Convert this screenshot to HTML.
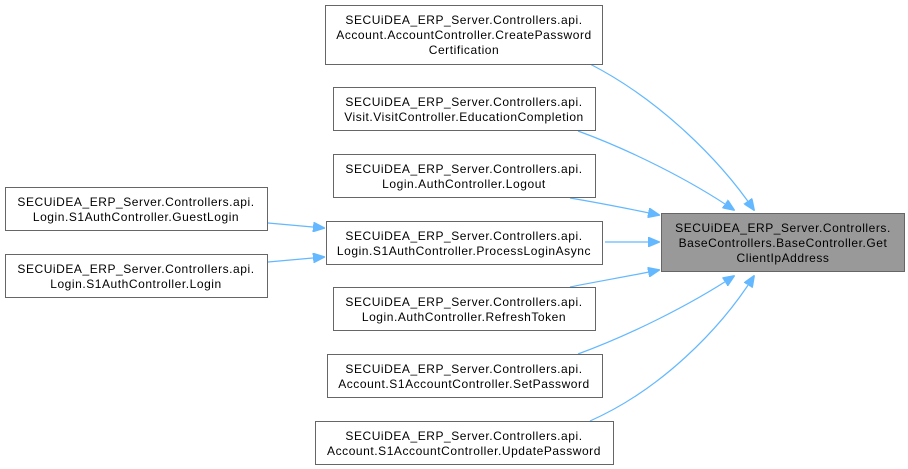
<!DOCTYPE html>
<html><head><meta charset="utf-8"><style>
html,body{margin:0;padding:0;background:#fff;}
svg{display:block;}
text{font-family:"Liberation Sans",Arial,sans-serif;font-size:12px;fill:#000;letter-spacing:0.55px;}
</style></head><body>
<svg width="908" height="469" viewBox="0 0 908 469" xmlns="http://www.w3.org/2000/svg">
<defs>
<marker id="a" markerWidth="12" markerHeight="10" refX="11" refY="5" orient="auto" markerUnits="userSpaceOnUse">
<path d="M0,0 L12,5 L0,10 Z" fill="#63b8ff" stroke="#63b8ff"/>
</marker>
</defs>
<g fill="none" stroke="#63b8ff" stroke-width="1.2">
<path d="M590,64 C660,100 720,160 754,210" marker-end="url(#a)"/>
<path d="M578,131 C630,150 690,180 734,210" marker-end="url(#a)"/>
<path d="M570,198 C600,203 630,209 659,215" marker-end="url(#a)"/>
<path d="M605,242 L659,242" marker-end="url(#a)"/>
<path d="M570,287 C600,281 630,276 659,270" marker-end="url(#a)"/>
<path d="M578,354 C630,335 690,305 734,276" marker-end="url(#a)"/>
<path d="M590,421 C660,390 720,330 754,276" marker-end="url(#a)"/>
<path d="M268,223 L324,228" marker-end="url(#a)"/>
<path d="M268,262 L324,257" marker-end="url(#a)"/>
</g>
<g stroke="#666" stroke-width="1" fill="#fff">
<rect x="325.5" y="5.5" width="277" height="59"/>
<rect x="333.5" y="87.5" width="262" height="43"/>
<rect x="333.5" y="154.5" width="262" height="43"/>
<rect x="326.5" y="221.5" width="276" height="43"/>
<rect x="333.5" y="287.5" width="262" height="43"/>
<rect x="327.5" y="354.5" width="275" height="43"/>
<rect x="315.5" y="421.5" width="298" height="43"/>
<rect x="5.5" y="187.5" width="262" height="43"/>
<rect x="5.5" y="254.5" width="262" height="43"/>
<rect x="661.5" y="213.5" width="243" height="58" fill="#999"/>
</g>
<g text-anchor="middle">
<text x="464" y="24">SECUiDEA_ERP_Server.Controllers.api.</text>
<text x="464" y="39">Account.AccountController.CreatePassword</text>
<text x="464" y="54">Certification</text>
<text x="464" y="106">SECUiDEA_ERP_Server.Controllers.api.</text>
<text x="464" y="121">Visit.VisitController.EducationCompletion</text>
<text x="464" y="173">SECUiDEA_ERP_Server.Controllers.api.</text>
<text x="464" y="188">Login.AuthController.Logout</text>
<text x="464" y="240">SECUiDEA_ERP_Server.Controllers.api.</text>
<text x="464" y="255">Login.S1AuthController.ProcessLoginAsync</text>
<text x="464" y="306">SECUiDEA_ERP_Server.Controllers.api.</text>
<text x="464" y="321">Login.AuthController.RefreshToken</text>
<text x="464" y="373">SECUiDEA_ERP_Server.Controllers.api.</text>
<text x="464" y="388">Account.S1AccountController.SetPassword</text>
<text x="464" y="440">SECUiDEA_ERP_Server.Controllers.api.</text>
<text x="464" y="455">Account.S1AccountController.UpdatePassword</text>
<text x="136" y="206">SECUiDEA_ERP_Server.Controllers.api.</text>
<text x="136" y="221">Login.S1AuthController.GuestLogin</text>
<text x="136" y="273">SECUiDEA_ERP_Server.Controllers.api.</text>
<text x="136" y="288">Login.S1AuthController.Login</text>
<text x="783" y="232">SECUiDEA_ERP_Server.Controllers.</text>
<text x="783" y="247">BaseControllers.BaseController.Get</text>
<text x="783" y="262">ClientIpAddress</text>
</g>
</svg>
</body></html>
